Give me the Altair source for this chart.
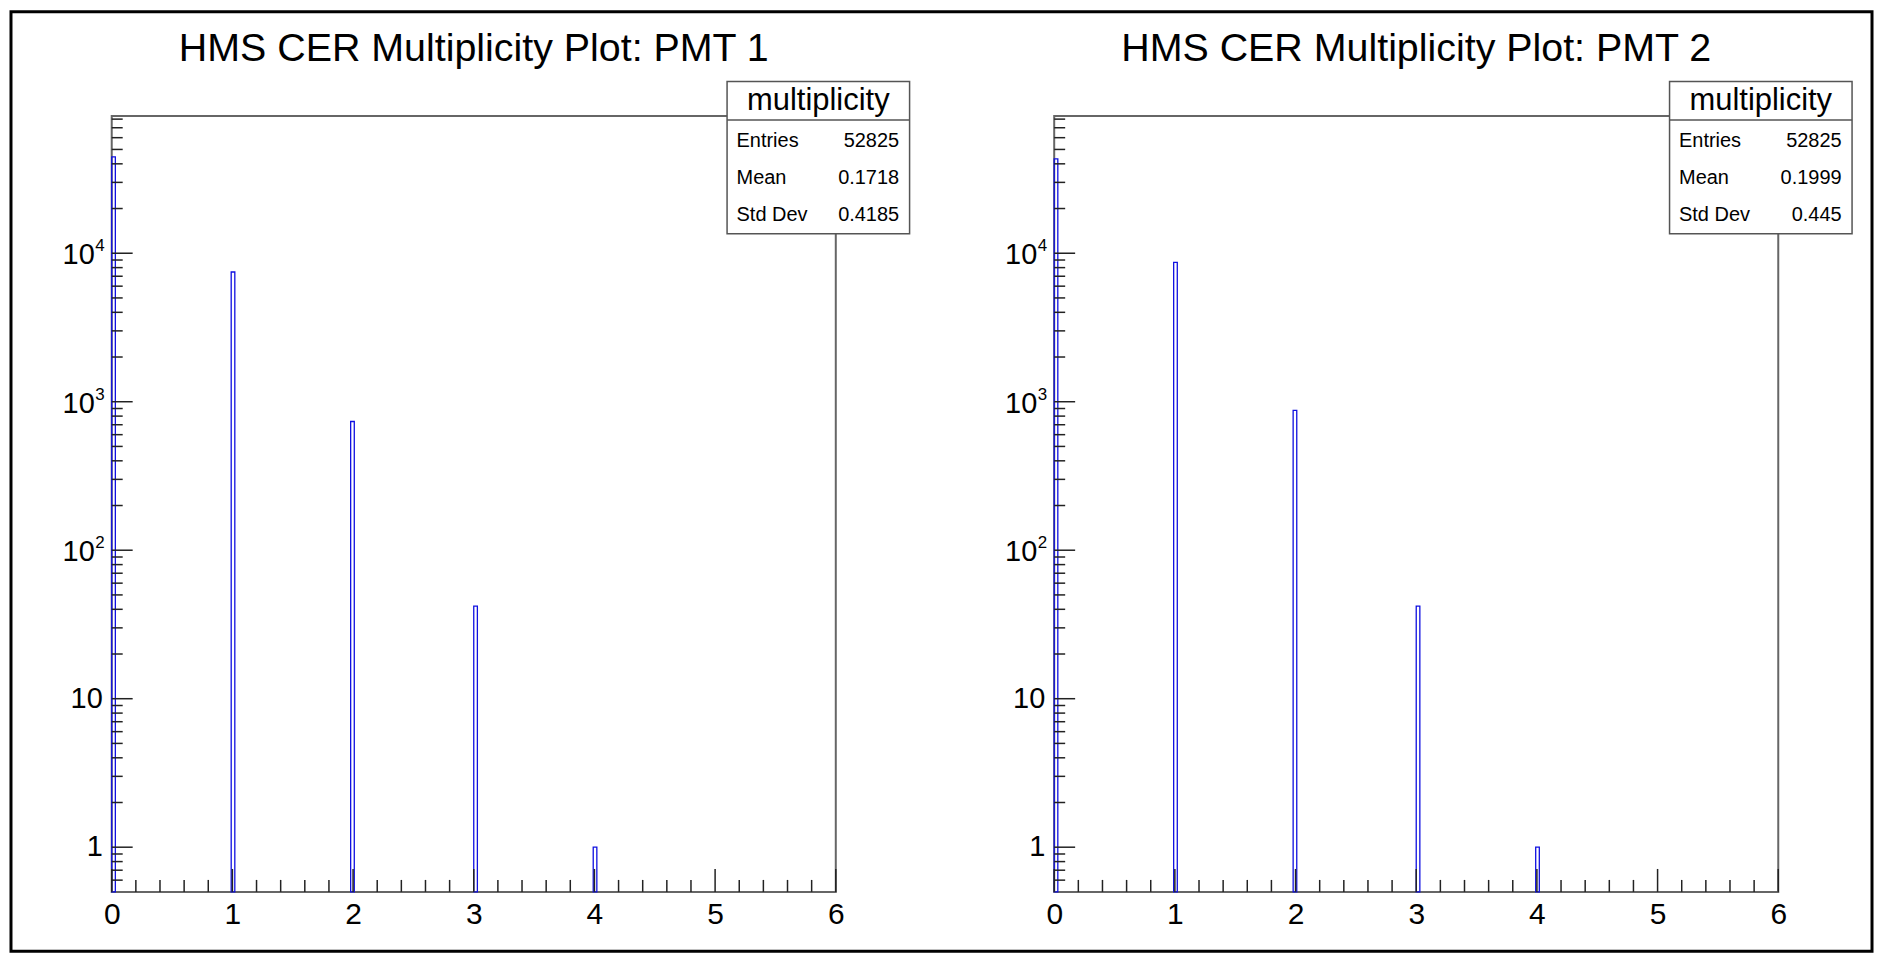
import altair as alt
import pandas as pd

# ---------------- data ----------------
titles = ["HMS CER Multiplicity Plot: PMT 1", "HMS CER Multiplicity Plot: PMT 2"]
bin_low = [0.0, 0.99, 1.98, 3.0, 3.99]
bin_width = 0.03
counts_pmt1 = [44573, 7473, 736, 42, 1]
counts_pmt2 = [43227, 8680, 875, 42, 1]
stats_header = "multiplicity"
stat_names = ["Entries", "Mean", "Std Dev"]
stats_pmt1 = ["52825", "0.1718", "0.4185"]
stats_pmt2 = ["52825", "0.1999", "0.445"]

x_major = [0, 1, 2, 3, 4, 5, 6]
x_minor = [0.2, 0.4, 0.6, 0.8, 1.2, 1.4, 1.6, 1.8, 2.2, 2.4, 2.6, 2.8,
           3.2, 3.4, 3.6, 3.8, 4.2, 4.4, 4.6, 4.8, 5.2, 5.4, 5.6, 5.8]
y_plain_ticks = [1, 10]
y_plain_labels = ["1", "10"]
y_power_ticks = [100, 1000, 10000]
y_power_base = ["10", "10", "10"]
y_power_exp = ["2", "3", "4"]
y_major = [1, 10, 100, 1000, 10000]
y_minor = [0.6, 0.7, 0.8, 0.9,
           2, 3, 4, 5, 6, 7, 8, 9,
           20, 30, 40, 50, 60, 70, 80, 90,
           200, 300, 400, 500, 600, 700, 800, 900,
           2000, 3000, 4000, 5000, 6000, 7000, 8000, 9000,
           20000, 30000, 40000, 50000, 60000, 70000, 80000]
x_domain = [0, 6]
y_domain = [0.5, 84000]

# ---------------- layout ----------------
W, H = 726, 778
FONT = "Liberation Sans"
TICK = "#222222"
BLUE = "#1010e0"
LBL = 29

xs = alt.Scale(domain=x_domain, nice=False, zero=False)
ys = alt.Scale(type="log", domain=y_domain, nice=False)
xa = alt.Axis(values=x_major, format="d", ticks=False, tickSize=0, domain=False, grid=False,
              labelFlush=False, labelOverlap=False, labelPadding=8, labelFontSize=30,
              labelFont=FONT, labelColor="black", title=None)
ya = alt.Axis(values=y_major, ticks=False, tickSize=0, domain=False, grid=False,
              labels=False, title=None)


def panel(title, counts, stat_vals, with_border):
    bars_df = pd.DataFrame({"lo": bin_low, "count": counts})
    bars = alt.Chart(bars_df).transform_calculate(
        hi=f"datum.lo + {bin_width}"
    ).mark_rect(fill="transparent", stroke=BLUE, strokeWidth=1.3).encode(
        x=alt.X("lo:Q", scale=xs, axis=xa),
        x2="hi:Q",
        y=alt.Y("count:Q", scale=ys, axis=ya),
        y2=alt.datum(0.5),
    )
    xmaj = alt.Chart(pd.DataFrame({"v": x_major})).mark_rule(color=TICK, strokeWidth=1.5).encode(
        x=alt.X("v:Q", scale=xs, axis=xa), y=alt.value(H), y2=alt.value(H - 23))
    xmin = alt.Chart(pd.DataFrame({"v": x_minor})).mark_rule(color=TICK, strokeWidth=1.5).encode(
        x=alt.X("v:Q", scale=xs, axis=xa), y=alt.value(H), y2=alt.value(H - 12))
    ymaj = alt.Chart(pd.DataFrame({"v": y_major})).mark_rule(color=TICK, strokeWidth=1.5).encode(
        y=alt.Y("v:Q", scale=ys, axis=ya), x=alt.value(0), x2=alt.value(21))
    ymin = alt.Chart(pd.DataFrame({"v": y_minor})).mark_rule(color=TICK, strokeWidth=1.5).encode(
        y=alt.Y("v:Q", scale=ys, axis=ya), x=alt.value(0), x2=alt.value(11))

    plain = alt.Chart(pd.DataFrame({"v": y_plain_ticks, "t": y_plain_labels})).mark_text(
        font=FONT, fontSize=LBL, color="black", align="right", baseline="middle").encode(
        y=alt.Y("v:Q", scale=ys, axis=ya), x=alt.value(-9), text="t:N")
    power = alt.Chart(pd.DataFrame({"v": y_power_ticks, "t": y_power_base})).mark_text(
        font=FONT, fontSize=LBL, color="black", align="right", baseline="middle", dy=2).encode(
        y=alt.Y("v:Q", scale=ys, axis=ya), x=alt.value(-17), text="t:N")
    expo = alt.Chart(pd.DataFrame({"v": y_power_ticks, "t": y_power_exp})).mark_text(
        font=FONT, fontSize=17, color="black", align="left", baseline="middle", dy=-7).encode(
        y=alt.Y("v:Q", scale=ys, axis=ya), x=alt.value(-16.5), text="t:N")

    title_df = pd.DataFrame({"t": [title]})
    ttl = alt.Chart(title_df).mark_text(font=FONT, fontSize=39.5, color="black", align="center",
                                        baseline="alphabetic").encode(
        text="t:N", x=alt.value(W / 2), y=alt.value(-55))

    box = alt.Chart(pd.DataFrame({"h": [stats_header]})).mark_rect(
        fill="white", stroke="#555555", strokeWidth=1.5).encode(
        x=alt.value(617), x2=alt.value(800), y=alt.value(-34.5), y2=alt.value(118))
    divider = alt.Chart(pd.DataFrame({"h": [stats_header]})).mark_rule(
        color="#555555", strokeWidth=1.5).encode(
        x=alt.value(617), x2=alt.value(800), y=alt.value(4))
    head = alt.Chart(pd.DataFrame({"h": [stats_header]})).mark_text(
        font=FONT, fontSize=31, color="black", align="center", baseline="middle").encode(
        text="h:N", x=alt.value(708.5), y=alt.value(-15))

    layers = [bars, xmin, xmaj, ymin, ymaj, plain, power, expo, ttl, box, divider, head]
    row_y = [25, 62, 99]
    for name, val, ry in zip(stat_names, stat_vals, row_y):
        df = pd.DataFrame({"name": [name], "val": [val]})
        layers.append(alt.Chart(df).mark_text(font=FONT, fontSize=20, color="black", align="left",
                                              baseline="middle").encode(
            text="name:N", x=alt.value(626.5), y=alt.value(ry)))
        layers.append(alt.Chart(df).mark_text(font=FONT, fontSize=20, color="black", align="right",
                                              baseline="middle").encode(
            text="val:N", x=alt.value(789.5), y=alt.value(ry)))
    if with_border:
        border = alt.Chart(pd.DataFrame({"b": [0]})).mark_rect(
            fill="transparent", stroke="black", strokeWidth=3).encode(
            x=alt.value(-101), x2=alt.value(1765), y=alt.value(-104.5), y2=alt.value(837.5))
        layers.append(border)
    return alt.layer(*layers).properties(width=W, height=H)


left = panel(titles[0], counts_pmt1, stats_pmt1, True)
right = panel(titles[1], counts_pmt2, stats_pmt2, False)

chart = alt.hconcat(left, right, spacing=219, bounds="flush").properties(
    padding=0, background="white"
).configure_view(stroke="#666666", strokeWidth=2)

chart.save("out.html", embed_options={"renderer": "svg", "actions": False})
